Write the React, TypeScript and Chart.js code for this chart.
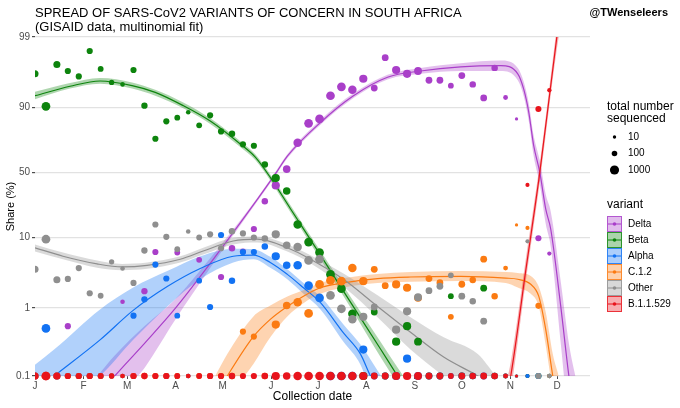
import React, { useEffect, useRef } from "react";
import { Chart, registerables } from "chart.js";

Chart.register(...registerables);

// ---------- data ----------
const titleLines = ["SPREAD OF SARS-CoV2 VARIANTS OF CONCERN IN SOUTH AFRICA", "(GISAID data, multinomial fit)"];
const handle = "@TWenseleers";
const xTitle = "Collection date";
const yTitle = "Share (%)";

const monthStarts = [0, 31, 59, 90, 120, 151, 181, 212, 243, 273, 304, 334];
const monthLabels = ["J", "F", "M", "A", "M", "J", "J", "A", "S", "O", "N", "D"];
const yTickValues = [0.1, 1, 10, 50, 90, 99];

// weekly collection dates (day of 2021)
const weekDays = [0, 7, 14, 21, 28, 35, 42, 49, 56, 63, 70, 77, 84, 91, 98, 105, 112, 119, 126, 133, 140, 147, 154, 161,
  168, 175, 182, 189, 196, 203, 210, 217, 224, 231, 238, 245, 252, 259, 266, 273, 280, 287, 294, 301, 308, 315, 322, 329];
const totalSequenced = [300, 800, 300, 160, 160, 160, 120, 80, 40, 160, 180, 160, 160, 120, 40, 120, 160, 160, 200, 160, 160, 200, 600, 400,
  700, 800, 800, 800, 800, 700, 600, 250, 250, 600, 600, 500, 250, 250, 120, 250, 200, 250, 200, 50, 8, 25, 150, 30];

const deltaShare = [0, 0, 0, 0.54, 0, 0, 0, 0, 1.23, 0, 1.75, 6.3, 0, 6.2, 0, 4.9, 0, 2.8, 7.1, 6.4, 12.8, 27.3, 39.1, 52.8,
  73.2, 84.1, 86, 93.1, 94.8, 94.3, 96, 94.6, 98, 97, 96.6, 96.9, 95.8, 95.8, 95, 96.4, 95.2, 92.6, 97.2, 92.7, 86, 0, 9.7, 6];
const betaShare = [96.6, 90.4, 97.5, 96.9, 96.3, 98.4, 97.1, 95.5, 95.2, 97, 90.6, 75.8, 85, 86.5, 88.5, 83.2, 87.4, 80.1, 78.8, 72.2,
  71.2, 56.7, 45.2, 34.8, 14.6, 8.6, 6.2, 3.05, 1.9, 0.82, 0, 0.87, 0, 0.32, 0.54, 0.32, 0, 0, 1.48, 0, 0, 1.93, 0, 0, 0, 0, 0, 0];
const alphaShare = [0, 0.5, 0, 0, 0, 0, 0, 0, 0, 0.77, 1.33, 4.2, 2.66, 0.77, 0, 2.48, 1.03, 10.7, 2.48, 6.3, 6.3, 7.5, 5.5, 4.1,
  4.1, 2.1, 1.4, 0, 0, 0, 0.245, 0, 0, 0, 0.18, 0, 0, 0, 0, 0, 0, 0, 0, 0, 0, 0, 0, 0];
const c12Share = [0, 0, 0, 0, 0, 0, 0, 0, 0, 0, 0, 0, 0, 0, 0, 0, 0, 0, 0, 0.45, 0.38, 0, 0.57, 1.08,
  1.21, 0.83, 2.19, 2.5, 2.44, 3.76, 2.44, 3.6, 2.1, 2.19, 1.96, 1.4, 2.66, 2.32, 0.74, 2.2, 2.53, 5.0, 1.48, 3.75, 14.4, 13.2, 1.07, 0];
const otherShare = [3.6, 9.4, 2.56, 2.63, 3.75, 1.63, 1.5, 4.6, 3.7, 2.3, 6.6, 14.6, 10.1, 6.9, 11.9, 9.9, 10.9, 7.1, 12, 11.2,
  9.9, 9.6, 10.9, 7.8, 7.4, 4.8, 5, 1.52, 0.97, 0.68, 0.74, 1.03, 0, 0.48, 0.89, 1.43, 1.78, 2.06, 2.96, 1.48, 1.25, 0.64, 0, 0, 0, 8.8, 0, 0];
const omicronShare = [0, 0, 0, 0, 0, 0, 0, 0, 0, 0, 0, 0, 0, 0, 0, 0, 0, 0, 0, 0, 0, 0, 0, 0,
  0, 0, 0, 0, 0, 0, 0, 0, 0, 0, 0, 0, 0, 0, 0, 0, 0, 0, 0, 0, 0, 39.6, 89.6, 94.2];

// multinomial fit (mid, lower and upper 95% CI), read at selected days
const deltaFitDays = [40, 51, 70.5, 89.7, 111.5, 137.7, 154.4, 161.4, 182.6, 203.7, 225.5, 246.6, 272.3, 297.9, 308.8, 312.6, 315.8, 319, 322.9, 326.7, 329.9, 336.3, 341.5, 346];
const deltaFitMid = [0.05, 0.1, 0.31, 0.98, 4.2, 22.3, 50, 63.5, 84.5, 93.1, 96.2, 96.9, 97.3, 97.4, 96.6, 94.4, 88.6, 71.2, 50, 22.3, 12.7, 1.05, 0.1, 0.02];
const deltaFitLo = [0.008, 0.037, 0.136, 0.67, 3.6, 21.1, 48.3, 61.8, 83.5, 92.6, 95.9, 96.6, 96.9, 96.9, 95.8, 93.0, 85.2, 63.4, 40.1, 14.8, 7.4, 0.3, 0.02, 0.005];
const deltaFitHi = [0.1, 0.2, 0.55, 1.34, 5.0, 23.5, 51.7, 65.0, 85.6, 93.6, 96.5, 97.2, 97.6, 97.8, 97.2, 95.6, 91.3, 77.7, 59.9, 32.1, 20.9, 2.4, 0.3, 0.09];

const betaFitDays = [0, 22.4, 41.6, 62.1, 76.9, 94.8, 112.1, 131.3, 140.9, 150.5, 163.4, 182.6, 201.8, 221, 231.9, 246.6];
const betaFitMid = [93.1, 94.9, 95.7, 95.0, 93.8, 90.6, 85.1, 72.4, 62.7, 45.8, 22.6, 5.7, 1.21, 0.25, 0.1, 0.03];
const betaFitLo = [92.3, 94.5, 95.3, 94.5, 93.1, 89.8, 83.8, 70.3, 60.3, 43.3, 20.6, 5.0, 1.01, 0.19, 0.076, 0.021];
const betaFitHi = [93.9, 95.4, 96.1, 95.5, 94.3, 91.5, 86.3, 74.3, 65.0, 48.3, 24.8, 6.5, 1.45, 0.32, 0.133, 0.043];

const alphaFitDays = [0, 12.2, 41.6, 62.8, 84.6, 105.7, 126.8, 139.7, 150.5, 161.4, 171.7, 182.6, 197.3, 208.2, 214.6, 227.4];
const alphaFitMid = [0.06, 0.1, 0.34, 0.92, 2.04, 3.7, 5.5, 5.7, 4.5, 3.05, 1.96, 1.19, 0.43, 0.21, 0.1, 0.032];
const alphaFitLo = [0.012, 0.034, 0.1, 0.34, 1.05, 2.6, 4.5, 5.0, 3.8, 2.6, 1.6, 0.95, 0.32, 0.147, 0.06, 0.012];
const alphaFitHi = [0.147, 0.245, 0.95, 1.98, 3.4, 5.5, 7.0, 6.9, 5.4, 3.6, 2.3, 1.46, 0.57, 0.29, 0.175, 0.06];

const c12FitDays = [115.3, 123, 139.7, 150.5, 161.4, 171.7, 182.6, 197.3, 219.1, 240.2, 272.3, 301.1, 308.8, 317.1, 322.2, 326.7, 331.2, 335];
const c12FitMid = [0.05, 0.1, 0.38, 0.68, 1.05, 1.48, 1.96, 2.3, 2.66, 2.8, 2.85, 2.7, 2.6, 2.2, 1.48, 0.48, 0.1, 0.032];
const c12FitLo = [0.02, 0.045, 0.15, 0.37, 0.75, 1.17, 1.6, 1.98, 2.3, 2.4, 2.45, 2.3, 1.98, 1.6, 1.05, 0.28, 0.055, 0.011];
const c12FitHi = [0.1, 0.21, 0.75, 1.08, 1.46, 1.8, 2.3, 2.7, 3.1, 3.3, 3.4, 3.3, 3.2, 2.9, 2.04, 0.86, 0.21, 0.1];

const otherFitDays = [0, 17.9, 39.7, 55.7, 71.7, 92.9, 107.6, 126.8, 142.2, 161.4, 176.2, 197.3, 219.1, 240.2, 261.4, 283.2, 294.7];
const otherFitMid = [7.2, 5.5, 4.3, 3.9, 4.1, 5.0, 6.5, 8.9, 9.4, 7.2, 5.0, 2.6, 1.05, 0.44, 0.19, 0.1, 0.067];
const otherFitLo = [6.4, 5.0, 3.8, 3.5, 3.66, 4.5, 5.8, 8.0, 8.5, 6.4, 4.4, 2.04, 0.73, 0.245, 0.1, 0.045, 0.032];
const otherFitHi = [8.0, 6.2, 4.8, 4.3, 4.5, 5.5, 7.2, 9.8, 10.2, 8.0, 5.7, 3.14, 1.52, 0.73, 0.37, 0.21, 0.1];

const omicronFitDays = [297.9, 304.3, 313.9, 322.9, 333.8, 339.5];
const omicronFitMid = [0.02, 0.1, 3.45, 50, 99.0, 99.88];
const omicronFitLo = [0.01, 0.06, 2.4, 42, 98.5, 99.75];
const omicronFitHi = [0.04, 0.16, 5.0, 58, 99.3, 99.94];

const sizeLegendValues = [10, 100, 1000];
const sizeLegendTitle = ["total number", "sequenced"];
const variantLegendTitle = "variant";

// ---------- styling ----------
const FONT = '"Liberation Sans", Arial, Helvetica, sans-serif';

type Variant = {
  name: string; color: string; share: number[];
  fitDays: number[]; fitMid: number[]; fitLo: number[]; fitHi: number[];
};

const variants: Variant[] = [
  { name: "Delta", color: "#a93fc9", share: deltaShare, fitDays: deltaFitDays, fitMid: deltaFitMid, fitLo: deltaFitLo, fitHi: deltaFitHi },
  { name: "Beta", color: "#0d840d", share: betaShare, fitDays: betaFitDays, fitMid: betaFitMid, fitLo: betaFitLo, fitHi: betaFitHi },
  { name: "Alpha", color: "#1272f3", share: alphaShare, fitDays: alphaFitDays, fitMid: alphaFitMid, fitLo: alphaFitLo, fitHi: alphaFitHi },
  { name: "C.1.2", color: "#fb7b12", share: c12Share, fitDays: c12FitDays, fitMid: c12FitMid, fitLo: c12FitLo, fitHi: c12FitHi },
  { name: "Other", color: "#8f8f8f", share: otherShare, fitDays: otherFitDays, fitMid: otherFitMid, fitLo: otherFitLo, fitHi: otherFitHi },
  { name: "B.1.1.529", color: "#e8141c", share: omicronShare, fitDays: omicronFitDays, fitMid: omicronFitMid, fitLo: omicronFitLo, fitHi: omicronFitHi },
];

const logit = (pct: number) => {
  const p = pct / 100;
  return Math.log(p / (1 - p));
};
const withAlpha = (hex: string, a: number) => {
  const r = parseInt(hex.slice(1, 3), 16), g = parseInt(hex.slice(3, 5), 16), b = parseInt(hex.slice(5, 7), 16);
  return `rgba(${r},${g},${b},${a})`;
};
const sizeRadius = (n: number) => 1.7 * Math.pow(n / 10, 0.215);

const overlayPlugin = {
  id: "overlay",
  afterDraw(chart: any) {
    const ctx: CanvasRenderingContext2D = chart.ctx;
    ctx.save();
    ctx.fillStyle = "#000";
    ctx.textAlign = "left";
    ctx.textBaseline = "alphabetic";
    ctx.font = `13px ${FONT}`;
    ctx.fillText(titleLines[0], 35, 17);
    ctx.fillText(titleLines[1], 35, 31);
    ctx.font = `bold 11px ${FONT}`;
    ctx.textAlign = "right";
    ctx.fillText(handle, 668, 16);

    // size legend
    ctx.textAlign = "left";
    ctx.textBaseline = "middle";
    ctx.font = `12px ${FONT}`;
    ctx.fillText(sizeLegendTitle[0], 607, 107);
    ctx.fillText(sizeLegendTitle[1], 607, 119);
    ctx.font = `10px ${FONT}`;
    sizeLegendValues.forEach((n, k) => {
      const cy = 137 + k * 16.5;
      ctx.beginPath();
      ctx.arc(614.5, cy, sizeRadius(n), 0, Math.PI * 2);
      ctx.fillStyle = "#000";
      ctx.fill();
      ctx.fillText(String(n), 628, cy);
    });

    // variant legend
    ctx.font = `12px ${FONT}`;
    ctx.fillText(variantLegendTitle, 607, 205);
    ctx.font = `10px ${FONT}`;
    variants.forEach((v, k) => {
      const top = 216 + k * 16;
      const left = 607;
      const w = 15, h = 16;
      ctx.fillStyle = withAlpha(v.color, 0.35);
      ctx.fillRect(left, top, w, h);
      ctx.strokeStyle = withAlpha(v.color, 0.8);
      ctx.lineWidth = 1;
      ctx.strokeRect(left + 0.5, top + 0.5, w - 1, h - 1);
      ctx.beginPath();
      ctx.moveTo(left + 1, top + h / 2);
      ctx.lineTo(left + w - 1, top + h / 2);
      ctx.strokeStyle = v.color;
      ctx.stroke();
      ctx.beginPath();
      ctx.arc(left + w / 2, top + h / 2, 1.8, 0, Math.PI * 2);
      ctx.fillStyle = v.color;
      ctx.fill();
      ctx.fillStyle = "#000";
      ctx.fillText(v.name, 628, top + h / 2);
    });
    ctx.restore();
  },
};

export default function App() {
  const canvasRef = useRef<HTMLCanvasElement>(null);

  useEffect(() => {
    document.body.style.margin = "0";
    const canvas = canvasRef.current;
    if (!canvas) return;

    const nV = variants.length;
    const datasets: any[] = [];

    // points (first variants drawn first, B.1.1.529 on top)
    variants.forEach((v, k) => {
      datasets.push({
        type: "scatter",
        label: v.name,
        data: weekDays.map((d, i) => ({ x: d, y: logit(Math.max(v.share[i], 0.1)) })),
        pointRadius: totalSequenced.map(sizeRadius),
        pointHoverRadius: totalSequenced.map(sizeRadius),
        backgroundColor: v.color,
        pointBackgroundColor: v.color,
        pointBorderWidth: 0,
        borderWidth: 0,
        showLine: false,
        order: nV - 1 - k,
        clip: { left: 0, right: 0, top: false, bottom: false },
      });
    });

    // fit lines and confidence bands
    variants.forEach((v, k) => {
      const toPts = (arr: number[]) => v.fitDays.map((d, i) => ({ x: d, y: logit(arr[i]) }));
      datasets.push({
        type: "line",
        label: v.name + " fit",
        data: toPts(v.fitMid),
        borderColor: v.color,
        borderWidth: 1.2,
        pointRadius: 0,
        fill: false,
        cubicInterpolationMode: "monotone",
        order: 10 + (nV - 1 - k),
        clip: 0,
      });
      const hiIndex = datasets.length;
      datasets.push({
        type: "line",
        label: v.name + " hi",
        data: toPts(v.fitHi),
        borderWidth: 0,
        borderColor: "rgba(0,0,0,0)",
        backgroundColor: withAlpha(v.color, 0.33),
        pointRadius: 0,
        fill: hiIndex + 1,
        cubicInterpolationMode: "monotone",
        order: 20 + (nV - 1 - k),
        clip: 0,
      });
      datasets.push({
        type: "line",
        label: v.name + " lo",
        data: toPts(v.fitLo),
        borderWidth: 0,
        borderColor: "rgba(0,0,0,0)",
        pointRadius: 0,
        fill: false,
        cubicInterpolationMode: "monotone",
        order: 20 + (nV - 1 - k),
        clip: 0,
      });
    });

    const chart = new Chart(canvas, {
      type: "scatter",
      data: { datasets },
      plugins: [overlayPlugin],
      options: {
        responsive: false,
        animation: false,
        events: [],
        layout: { padding: { top: 37, right: 90, bottom: 0, left: 0 } },
        plugins: { legend: { display: false }, tooltip: { enabled: false }, title: { display: false } },
        scales: {
          x: {
            type: "linear",
            min: 0,
            max: 355,
            afterBuildTicks: (s: any) => {
              s.ticks = monthStarts.map((v) => ({ value: v }));
            },
            afterFit: (s: any) => {
              s.height = 32;
            },
            ticks: {
              autoSkip: false,
              maxRotation: 0,
              padding: 1,
              color: "#4d4d4d",
              font: { family: FONT, size: 10 },
              callback: (_v: any, i: number) => monthLabels[i],
            },
            grid: { drawOnChartArea: false, drawTicks: true, tickLength: 3, color: "#4d4d4d", tickColor: "#4d4d4d" },
            border: { display: false },
            title: { display: true, text: xTitle, color: "#000", font: { family: FONT, size: 12 }, padding: { top: 0, bottom: 4 } },
          },
          y: {
            type: "linear",
            min: logit(yTickValues[0]),
            max: logit(yTickValues[yTickValues.length - 1]),
            afterBuildTicks: (s: any) => {
              s.ticks = yTickValues.map((v) => ({ value: logit(v) }));
            },
            afterFit: (s: any) => {
              s.width = 35;
            },
            ticks: {
              padding: 2,
              color: "#4d4d4d",
              font: { family: FONT, size: 10 },
              callback: (_v: any, i: number) => String(yTickValues[i]),
            },
            grid: { color: "#e2e2e2", lineWidth: 1.2, drawTicks: true, tickLength: 3, tickColor: "#4d4d4d" },
            border: { display: false },
            title: { display: true, text: yTitle, color: "#000", font: { family: FONT, size: 11 }, padding: { top: 4, bottom: 0 } },
          },
        },
      } as any,
    });

    return () => chart.destroy();
  }, []);

  return (
    <div style={{ width: 680, height: 408, background: "#fff" }}>
      <canvas ref={canvasRef} width={680} height={408} style={{ display: "block" }} />
    </div>
  );
}
